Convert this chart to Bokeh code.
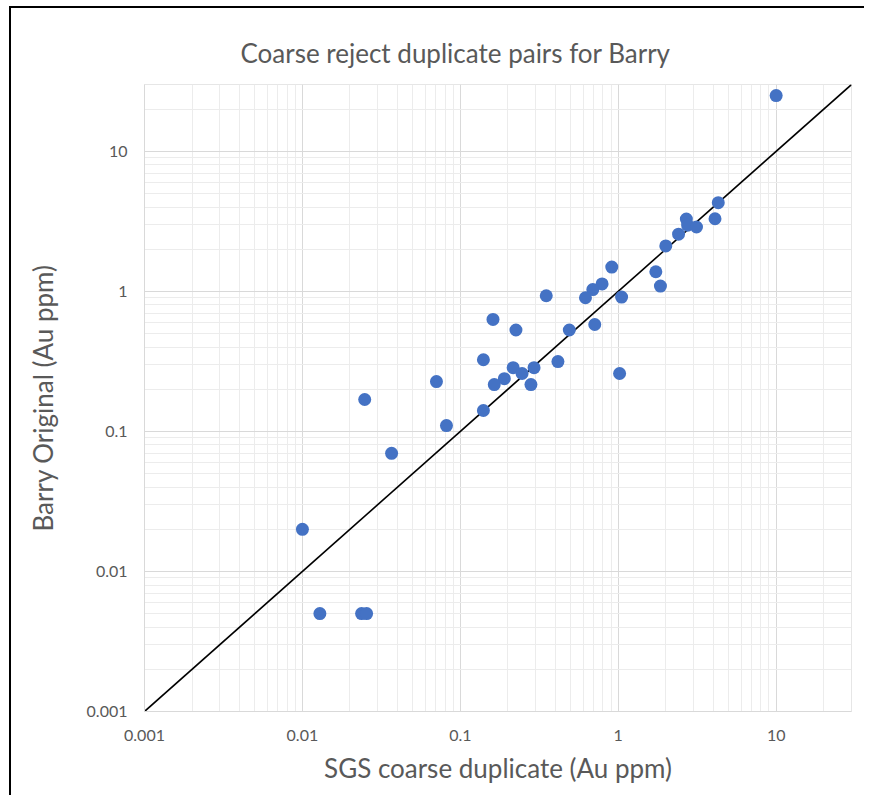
from bokeh.plotting import figure
from bokeh.layouts import column
from bokeh.models import FixedTicker, CustomJSTickFormatter, ColumnDataSource
from bokeh.embed import file_html
from bokeh.resources import INLINE

# Data
sgs_duplicate = [10, 4.3, 4.1, 2.7, 2.75, 3.13, 2.41, 2.0, 1.73, 1.85, 0.91, 0.79,
                 0.69, 0.62, 1.05, 0.35, 0.161, 0.225, 0.49, 0.71, 0.14, 0.415,
                 0.216, 0.293, 0.246, 0.19, 0.164, 0.28, 1.02, 0.0706, 0.0248,
                 0.14, 0.0817, 0.0367, 0.01, 0.0129, 0.0237, 0.0255]
barry_original = [25, 4.3, 3.3, 3.28, 2.97, 2.88, 2.56, 2.11, 1.38, 1.09, 1.49, 1.13,
                  1.03, 0.90, 0.91, 0.93, 0.63, 0.53, 0.53, 0.58, 0.325, 0.315,
                  0.285, 0.285, 0.259, 0.238, 0.216, 0.216, 0.259, 0.227, 0.169,
                  0.141, 0.110, 0.0697, 0.020, 0.005, 0.005, 0.005]
one_to_one = [0.001, 30]
major_ticks = [0.001, 0.01, 0.1, 1, 10]
axis_min, axis_max = 0.001, 30

minor_ticks = []
for e in range(-3, 2):
    for k in range(2, 10):
        v = k * 10.0 ** e
        if v < axis_max:
            minor_ticks.append(v)

W, H = 853, 787
ML, MR, MT, MB = 133, 13, 76, 84
p = figure(width=W, height=H, x_axis_type="log", y_axis_type="log",
           x_range=(axis_min, axis_max), y_range=(axis_min, axis_max),
           output_backend="svg", toolbar_location=None,
           min_border_left=ML, min_border_right=MR,
           min_border_top=MT, min_border_bottom=MB)

p.title.text = "Coarse reject duplicate pairs for Barry"
p.title.text_font = "Lato"
p.title.text_font_size = "26px"
p.title.text_font_style = "normal"
p.title.text_color = "#595959"
p.title.align = "left"
p.title.offset = 96
p.title.standoff = 32

for ax in (p.xaxis[0], p.yaxis[0]):
    ax.ticker = FixedTicker(ticks=major_ticks, minor_ticks=minor_ticks)
    ax.formatter = CustomJSTickFormatter(code="return tick.toString();")
    ax.major_label_text_font = "Lato"
    ax.major_label_text_font_size = "16px"
    ax.major_label_text_color = "#595959"
    ax.major_tick_line_color = None
    ax.minor_tick_line_color = None
    ax.axis_line_color = "#d9d9d9"
    ax.axis_label_text_font = "Lato"
    ax.axis_label_text_font_size = "26px"
    ax.axis_label_text_font_style = "normal"
    ax.axis_label_text_color = "#595959"

p.xaxis.axis_label = "SGS coarse duplicate (Au ppm)"
p.yaxis.axis_label = "Barry Original (Au ppm)"
p.xaxis.major_label_standoff = 12
p.yaxis.major_label_standoff = 11
p.xaxis.axis_label_standoff = 8
p.yaxis.axis_label_standoff = 25

for g in (p.xgrid[0], p.ygrid[0]):
    g.grid_line_color = "#d9d9d9"
    g.grid_line_width = 1
    g.minor_grid_line_color = "#ececec"
    g.minor_grid_line_width = 1

p.outline_line_color = "#e6e6e6"
p.background_fill_color = "white"
p.border_fill_color = "white"

p.line(one_to_one, one_to_one, line_color="black", line_width=1.6)

src = ColumnDataSource(dict(x=sgs_duplicate, y=barry_original))
p.scatter("x", "y", source=src, size=13, fill_color="#4472C4",
          line_color="#4472C4", line_width=0)

layout = column(p, width=W, height=H,
                styles={"margin-left": "9px", "margin-top": "6px",
                        "border-left": "2px solid black",
                        "border-top": "2px solid black",
                        "border-right": "none", "border-bottom": "none",
                        "box-sizing": "content-box"})

open("out.html", "w").write(file_html(layout, INLINE))
